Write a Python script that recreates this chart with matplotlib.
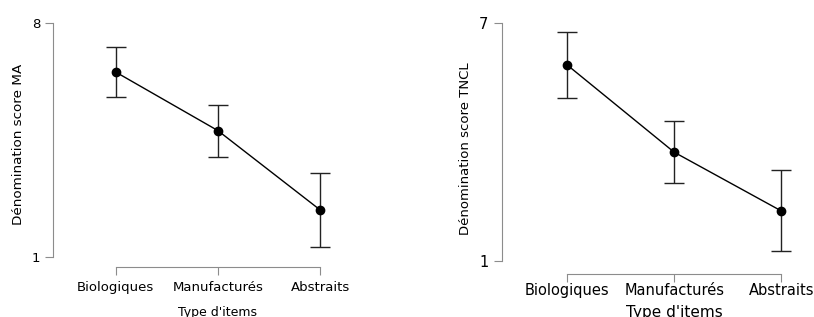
import matplotlib
matplotlib.use("Agg")
import matplotlib.pyplot as plt
import numpy as np

# Data
categories = ["Biologiques", "Manufacturés", "Abstraits"]
ma_mean = [6.53, 4.78, 2.41]
ma_low = [5.77, 4.00, 1.30]
ma_high = [7.27, 5.54, 3.51]
tncl_mean = [5.94, 3.74, 2.26]
tncl_low = [5.10, 2.97, 1.24]
tncl_high = [6.77, 4.52, 3.30]

W, H = 814, 317
fig = plt.figure(figsize=(W / 100, H / 100), dpi=100)

grey = "#8c8c8c"


def panel(rect, mean, low, high, ymin, ymax, ylab, fs, xlim, xpad, xlpad, ylpad,
          xlfs, ylfs):
    ax = fig.add_axes(rect)
    x = np.arange(len(categories))
    mean = np.array(mean)
    err = [mean - np.array(low), np.array(high) - mean]
    ax.errorbar(x, mean, yerr=err, fmt="o-", color="black", ecolor="#222222",
                elinewidth=1.0, capsize=7.5, capthick=1.0, lw=1.0, ms=6)
    ax.set_xlim(*xlim)
    ax.set_ylim(ymin, ymax)
    for s in ["top", "right"]:
        ax.spines[s].set_visible(False)
    ax.spines["left"].set_bounds(1, ymax)
    ax.spines["bottom"].set_bounds(0, 2)
    for s in ["left", "bottom"]:
        ax.spines[s].set_color(grey)
        ax.spines[s].set_linewidth(0.8)
    ax.set_yticks([1, ymax])
    ax.set_xticks(x)
    ax.set_xticklabels(categories, fontsize=fs)
    ax.tick_params(axis="y", labelsize=fs, color=grey, length=6, width=0.8)
    ax.tick_params(axis="x", color=grey, length=6, width=0.8, pad=xpad)
    ax.set_xlabel("Type d'items", fontsize=xlfs, labelpad=xlpad)
    # centre the x label under the middle category
    ax.xaxis.label.set_x((1 - xlim[0]) / (xlim[1] - xlim[0]))
    ax.set_ylabel(ylab, fontsize=ylfs, labelpad=ylpad)
    ax.patch.set_alpha(0)
    return ax


# left panel: spine at x=53, bottom axis at y=267, top tick at y=22.7
panel([53.3 / W, (H - 266.7) / H, 297.7 / W, 244.0 / H],
      ma_mean, ma_low, ma_high, 0.72, 8, "Dénomination score MA", 9.5,
      (-0.608, 2.3), 4, 9, 5, 9, 9.7)
# right panel: spine at x=501.7, bottom axis at y=274
panel([501.7 / W, (H - 274.0) / H, 300.0 / W, 251.3 / H],
      tncl_mean, tncl_low, tncl_high, 0.673, 7, "Dénomination score TNCL", 10.5,
      (-0.609, 2.19), 0.5, 5, 5, 11, 9.5)

fig.savefig("out.png", dpi=100)
